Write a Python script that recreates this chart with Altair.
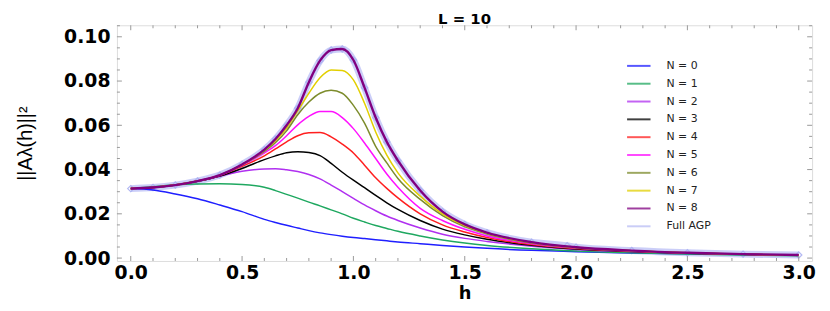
import altair as alt
import pandas as pd

# grid of h values
h = [0.0, 0.1, 0.2, 0.3, 0.4, 0.5, 0.6, 0.65, 0.7, 0.75, 0.8, 0.85, 0.9, 0.95,
     1.0, 1.05, 1.1, 1.15, 1.2, 1.3, 1.4, 1.5, 1.6, 1.8, 2.0, 2.25, 2.5, 2.75, 3.0]

n0 = [.0314, .0308, .0290, .0268, .0240, .0210, .0175, .0161, .0148, .0136, .0124, .0114, .0106, .0099,
      .0093, .0088, .0083, .0078, .0073, .0065, .0057, .0050, .0044, .0035, .0029, .0023, .0019, .0016, .0013]
n1 = [.0314, .0322, .0331, .0335, .0336, .0333, .0320, .0305, .0288, .0271, .0253, .0236, .0218, .0200,
      .0180, .0163, .0147, .0134, .0121, .0100, .0082, .0068, .0057, .0042, .0032, .0024, .0018, .0014, .0011]
n2 = [.0314, .0319, .0330, .0347, .0370, .0392, .0403, .0404, .0399, .0391, .0378, .0358, .0330, .0300,
      .0270, .0240, .0214, .0190, .0170, .0136, .0108, .0089, .0075, .0054, .0039, .0029, .0022, .0017, .0013]
n3 = [.0314, .0319, .0330, .0347, .0371, .0405, .0445, .0462, .0476, .0481, .0477, .0463, .0428, .0388,
      .0352, .0318, .0283, .0250, .0220, .0170, .0131, .0105, .0085, .0058, .0041, .0030, .0022, .0017, .0013]
n4 = [.0314, .0319, .0330, .0348, .0373, .0415, .0462, .0493, .0525, .0553, .0566, .0567, .0548, .0515,
      .0475, .0420, .0363, .0315, .0272, .0200, .0150, .0118, .0093, .0061, .0043, .0031, .0023, .0017, .0013]
n5 = [.0314, .0319, .0330, .0348, .0374, .0420, .0475, .0508, .0553, .0602, .0640, .0662, .0662, .0635,
      .0585, .0520, .0450, .0380, .0320, .0225, .0170, .0130, .0100, .0065, .0045, .0032, .0023, .0017, .0013]
n6 = [.0314, .0319, .0330, .0348, .0375, .0422, .0482, .0522, .0575, .0648, .0705, .0745, .0758, .0745,
      .0690, .0610, .0505, .0430, .0360, .0265, .0192, .0142, .0109, .0068, .0047, .0033, .0023, .0017, .0013]
n7 = [.0314, .0319, .0330, .0348, .0375, .0422, .0487, .0530, .0588, .0665, .0745, .0815, .0850, .0848,
      .0805, .0700, .0570, .0465, .0385, .0280, .0200, .0147, .0112, .0070, .0048, .0033, .0024, .0018, .0013]
n8 = [.0314, .0319, .0330, .0348, .0375, .0423, .0490, .0538, .0600, .0677, .0795, .0892, .0940, .0945,
      .0895, .0770, .0635, .0525, .0440, .0305, .0210, .0152, .0115, .0072, .0049, .0034, .0024, .0018, .0014]

# Full AGP reference (nearly identical to N = 8, one stray point near h = 2)
h_agp = [0.0, 0.1, 0.2, 0.3, 0.4, 0.5, 0.6, 0.65, 0.7, 0.75, 0.8, 0.85, 0.9, 0.95,
         1.0, 1.05, 1.1, 1.15, 1.2, 1.3, 1.4, 1.5, 1.6, 1.8, 1.96, 2.0, 2.25, 2.5, 2.75, 3.0]
agp = [.0314, .0319, .0330, .0348, .0375, .0423, .0490, .0538, .0600, .0677, .0795, .0892, .0940, .0945,
       .0895, .0770, .0635, .0525, .0440, .0305, .0210, .0152, .0115, .0072, .0056, .0049, .0034, .0024, .0018, .0014]

labels = ["N = 0", "N = 1", "N = 2", "N = 3", "N = 4", "N = 5", "N = 6", "N = 7", "N = 8", "Full AGP"]
colors = ["#1f1fff", "#1fa860", "#b030f0", "#000000", "#ff1f1f", "#ff10ff", "#7d8c2c", "#e2cf00", "#800080", "#b9bdf5"]

x_ticks = [0.0, 0.5, 1.0, 1.5, 2.0, 2.5, 3.0]
y_ticks = [0.00, 0.02, 0.04, 0.06, 0.08, 0.10]
x_minor = [0.1, 0.2, 0.3, 0.4, 0.6, 0.7, 0.8, 0.9, 1.1, 1.2, 1.3, 1.4, 1.6, 1.7, 1.8, 1.9,
           2.1, 2.2, 2.3, 2.4, 2.6, 2.7, 2.8, 2.9]
y_minor = [0.005, 0.01, 0.015, 0.025, 0.03, 0.035, 0.045, 0.05, 0.055, 0.065, 0.07, 0.075,
           0.085, 0.09, 0.095, 0.105]

series = [n0, n1, n2, n3, n4, n5, n6, n7, n8]
rows = []
for lab, vals in zip(labels[:9], series):
    for hv, v in zip(h, vals):
        rows.append({"h": hv, "v": v, "series": lab})
df = pd.DataFrame(rows)
df_agp = pd.DataFrame({"h": h_agp, "v": agp, "series": "Full AGP"})

W, H = 702, 238
xs = alt.Scale(domain=[-0.062, 3.06], nice=False, zero=False)
ys = alt.Scale(domain=[-0.0013, 0.1052], nice=False, zero=False)
cscale = alt.Scale(domain=labels, range=colors)

legend = alt.Legend(title=None, orient="none", legendX=514, legendY=28,
                    symbolType="stroke", symbolSize=560, symbolStrokeWidth=2,
                    labelFont="DejaVu Sans", labelFontSize=11, labelColor="#222",
                    rowPadding=0, labelOffset=15)

x_axis = alt.Axis(values=x_ticks, format=".1f", ticks=False, grid=False,
                  labelFont="DejaVu Sans", labelFontWeight="bold", labelFontSize=19,
                  labelColor="black", labelPadding=3, domain=False,
                  title="h", titleFont="DejaVu Sans", titleFontWeight="bold",
                  titleFontSize=18, titleColor="black", titlePadding=2)
y_axis = alt.Axis(values=y_ticks, format=".2f", ticks=False, grid=False,
                  labelFont="DejaVu Sans", labelFontWeight="bold", labelFontSize=19,
                  labelColor="black", labelPadding=7, domain=False,
                  title="||Aλ(h)||²", titleFont="Liberation Sans", titleFontWeight="normal",
                  titleFontSize=20, titleColor="black", titlePadding=28)

agp_line = alt.Chart(df_agp).mark_line(strokeWidth=7, opacity=0.75, interpolate="monotone").encode(
    x=alt.X("h:Q", scale=xs, axis=x_axis),
    y=alt.Y("v:Q", scale=ys, axis=y_axis),
    color=alt.Color("series:N", scale=cscale, legend=legend),
)
agp_pts = alt.Chart(df_agp).mark_point(shape="diamond", size=40, filled=False, strokeWidth=1.2,
                                       color="#aab0f2", opacity=0.9).encode(
    x=alt.X("h:Q", scale=xs), y=alt.Y("v:Q", scale=ys))

lines = alt.Chart(df).mark_line(interpolate="monotone").encode(
    x=alt.X("h:Q", scale=xs),
    y=alt.Y("v:Q", scale=ys),
    color=alt.Color("series:N", scale=cscale, legend=legend),
    strokeWidth=alt.condition(alt.datum.series == "N = 8", alt.value(2.4), alt.value(1.5)),
    order=alt.Order("h:Q"),
)

def tick_layer(vals, axis, side, length):
    base = alt.Chart(pd.DataFrame({"t": vals})).mark_rule(color="#999", strokeWidth=1)
    if axis == "x":
        if side == "bottom":
            return base.encode(x=alt.X("t:Q", scale=xs), y=alt.value(H), y2=alt.value(H - length))
        return base.encode(x=alt.X("t:Q", scale=xs), y=alt.value(0), y2=alt.value(length))
    if side == "left":
        return base.encode(y=alt.Y("t:Q", scale=ys), x=alt.value(0), x2=alt.value(length))
    return base.encode(y=alt.Y("t:Q", scale=ys), x=alt.value(W), x2=alt.value(W - length))

ticks = []
for side in ["bottom", "top"]:
    ticks.append(tick_layer(x_ticks, "x", side, 5))
    ticks.append(tick_layer(x_minor, "x", side, 3))
for side in ["left", "right"]:
    ticks.append(tick_layer(y_ticks, "y", side, 5))
    ticks.append(tick_layer(y_minor, "y", side, 3))

chart = alt.layer(agp_line, agp_pts, lines, *ticks).properties(
    width=W, height=H,
    title=alt.Title("L = 10", font="DejaVu Sans", fontSize=15, fontWeight="bold",
                    color="black", offset=-2),
    autosize=alt.AutoSizeParams(type="none"),
    padding={"left": 110, "top": 16, "right": 10, "bottom": 41},
).configure_view(stroke="#aaa", strokeWidth=1.2).configure(background="white")

chart.save("out.html", embed_options={"renderer": "svg", "actions": False})
